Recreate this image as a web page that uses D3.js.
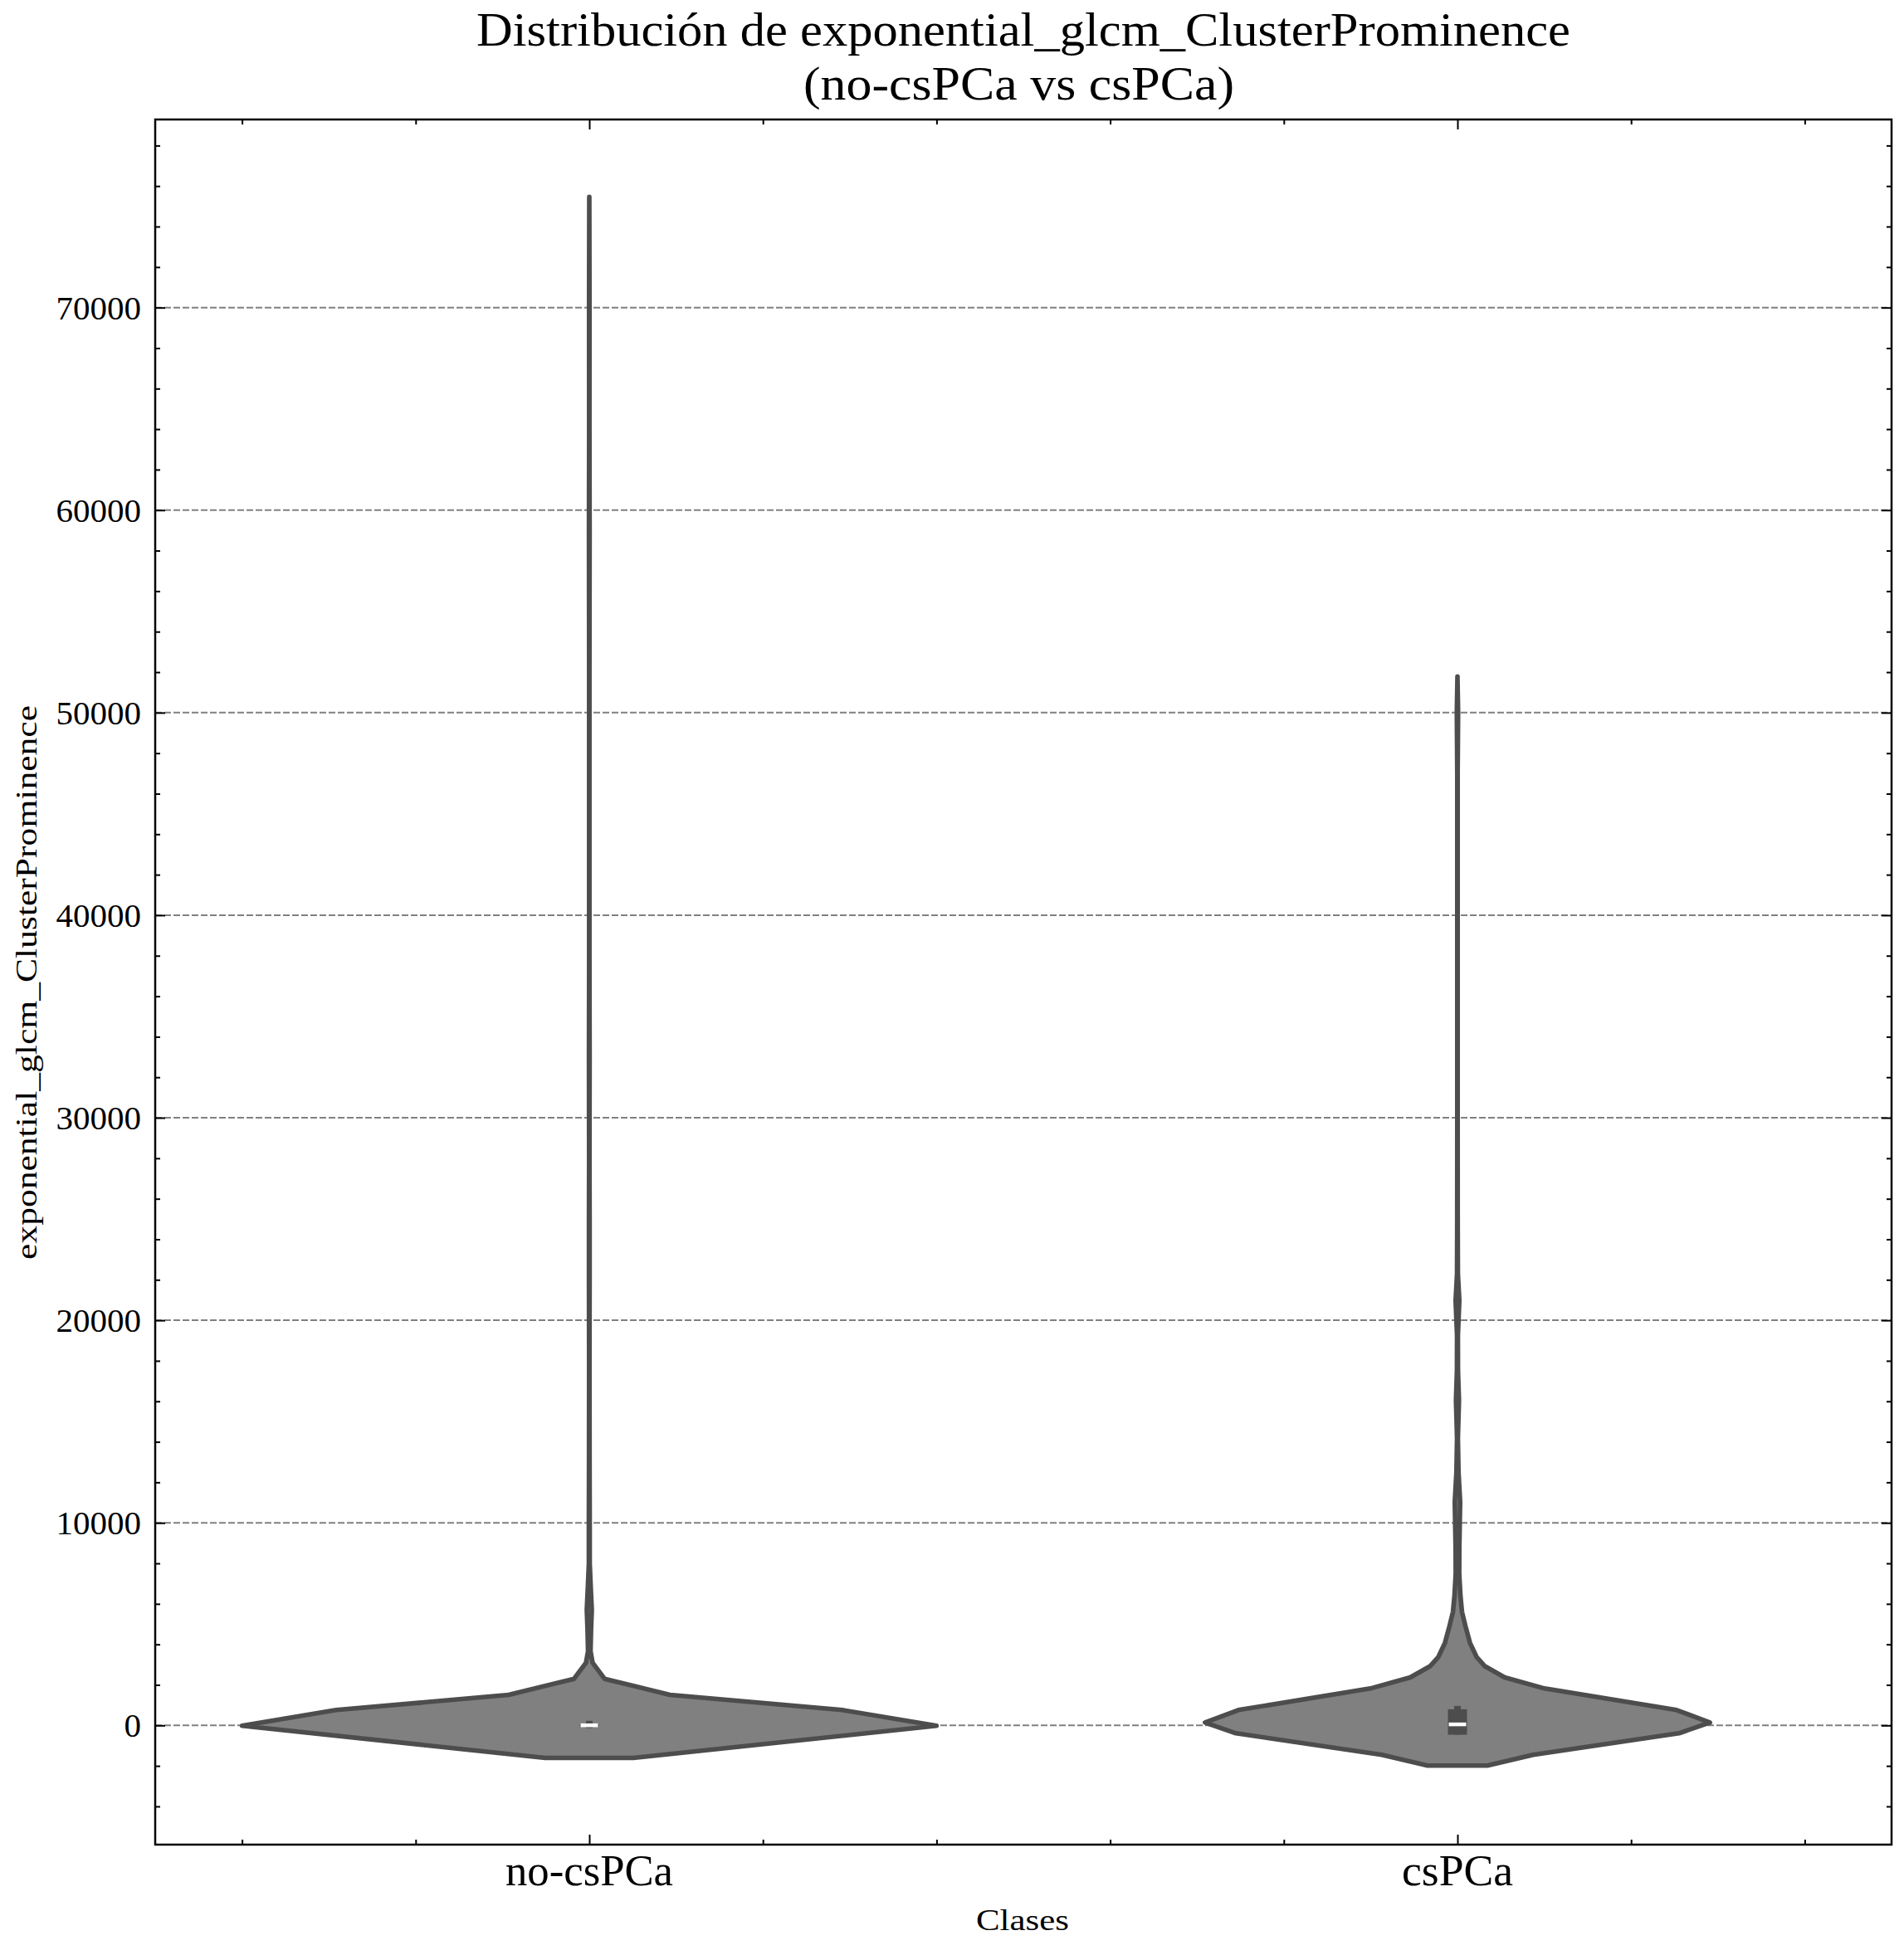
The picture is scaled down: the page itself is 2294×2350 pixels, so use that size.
<!DOCTYPE html>
<html>
<head>
<meta charset="utf-8">
<script src="https://cdn.jsdelivr.net/npm/d3@7"></script>
<style>
  body { margin: 0; background: #fff; }
  text { font-family: "Liberation Serif", serif; fill: #000; }
</style>
</head>
<body>
<script>
var categories = ["no-csPCa", "csPCa"]

// violin outlines: value on y axis, density scaled so the widest violin is 1
var noCsValues = [-1605, -20, 757, 1507, 2300, 3090, 3660, 4700, 5700, 6800, 8000, 10000, 13000, 18000, 22000, 25000, 28000, 33000, 38000, 45000, 52000, 59000, 64000, 70000, 75460]
var noCsDensity = [0.127, 1, 0.729, 0.232, 0.044, 0.0096, 0.0036, 0.005, 0.0072, 0.0042, 0.0012, 0.0012, 0.0008, 0.0005, 0.0009, 0.0009, 0.0005, 0.0009, 0.0004, 0.0004, 0.0004, 0.0009, 0.0004, 0.0006, 0]
var csValues = [-1985, -1455, -390, 143, 757, 1822, 2367, 2920, 3380, 4075, 4900, 5600, 6400, 7500, 8700, 11030, 12500, 14170, 16070, 17500, 19230, 20980, 22300, 25000, 30000, 40000, 47000, 50000, 51780]
var csDensity = [0.086, 0.218, 0.638, 0.727, 0.631, 0.251, 0.136, 0.079, 0.055, 0.036, 0.023, 0.013, 0.0086, 0.005, 0.0053, 0.0077, 0.003, 0.0012, 0.0043, 0.0015, 0.0012, 0.0053, 0.0012, 0.0007, 0.0005, 0.0005, 0.0005, 0.0018, 0]

// box stats per class
var medians = [5, 50]
var q1s = [-40, -460]
var q3s = [50, 795]
var whiskLow = [-130, -460]
var whiskHigh = [225, 960]

var yMajor = [0, 10000, 20000, 30000, 40000, 50000, 60000, 70000]
var yMinor = d3.range(-4000, 79000, 2000).filter(function(d) { return d % 10000 !== 0 })
var xMajor = [0, 1]
var xMinor = [-0.4, -0.2, 0.2, 0.4, 0.6, 0.8, 1.2, 1.4]

var left = 187, right = 2279, top_ = 144, bottom = 2223
var violinWidth = 0.4

var x = d3.scaleLinear().domain([-0.5, 1.5]).range([left, right])
var y = d3.scaleLinear().domain([-5887, 79286]).range([bottom, top_])

var svg = d3.select("body").append("svg")
  .attr("width", 2294)
  .attr("height", 2350)
  .style("display", "block")

// grid
svg.append("g").selectAll("line")
  .data(yMajor)
  .enter().append("line")
  .attr("x1", left)
  .attr("x2", right)
  .attr("y1", function(d) { return y(d) })
  .attr("y2", function(d) { return y(d) })
  .attr("stroke", "#808080")
  .attr("stroke-width", 2)
  .attr("stroke-dasharray", "8,3")

// violins
var violins = [
  { pos: 0, values: noCsValues, density: noCsDensity },
  { pos: 1, values: csValues, density: csDensity }
]

violins.forEach(function(v, i) {
  var pts = v.values.map(function(d, k) { return [d, v.density[k]] })
  var area = d3.area()
    .y(function(d) { return y(d[0]) })
    .x0(function(d) { return x(v.pos - d[1] * violinWidth) })
    .x1(function(d) { return x(v.pos + d[1] * violinWidth) })
    .curve(d3.curveLinear)

  svg.append("path")
    .attr("d", area(pts) )
    .attr("fill", "#808080")
    .attr("stroke", "#4d4d4d")
    .attr("stroke-width", 5.6)
    .attr("stroke-linejoin", "round")

  // whisker
  svg.append("line")
    .attr("x1", x(v.pos))
    .attr("x2", x(v.pos))
    .attr("y1", y(whiskLow[i]))
    .attr("y2", y(whiskHigh[i]))
    .attr("stroke", "#4d4d4d")
    .attr("stroke-width", 8)

  // box
  svg.append("line")
    .attr("x1", x(v.pos))
    .attr("x2", x(v.pos))
    .attr("y1", y(q1s[i]))
    .attr("y2", y(q3s[i]))
    .attr("stroke", "#4d4d4d")
    .attr("stroke-width", 23)

  // median
  svg.append("line")
    .attr("x1", x(v.pos - 0.01))
    .attr("x2", x(v.pos + 0.01))
    .attr("y1", y(medians[i]))
    .attr("y2", y(medians[i]))
    .attr("stroke", "#fff")
    .attr("stroke-width", 4.5)
})

function drawAxis(axis, tx, ty, size, width) {
  var g = svg.append("g")
    .attr("transform", "translate(" + tx + "," + ty + ")")
    .call(axis.tickSize(size).tickFormat(""))
  g.select(".domain").remove()
  g.selectAll("line").attr("stroke", "#000").attr("stroke-width", width)
  return g
}

// ticks point inward on all four sides
drawAxis(d3.axisRight(y).tickValues(yMajor), left, 0, 12, 2)
drawAxis(d3.axisRight(y).tickValues(yMinor), left, 0, 6, 2)
drawAxis(d3.axisLeft(y).tickValues(yMajor), right, 0, 12, 2)
drawAxis(d3.axisLeft(y).tickValues(yMinor), right, 0, 6, 2)
drawAxis(d3.axisTop(x).tickValues(xMajor), 0, bottom, 12, 2)
drawAxis(d3.axisTop(x).tickValues(xMinor), 0, bottom, 6, 2)
drawAxis(d3.axisBottom(x).tickValues(xMajor), 0, top_, 12, 2)
drawAxis(d3.axisBottom(x).tickValues(xMinor), 0, top_, 6, 2)

svg.append("rect")
  .attr("x", left)
  .attr("y", top_)
  .attr("width", right - left)
  .attr("height", bottom - top_)
  .attr("fill", "none")
  .attr("stroke", "#000")
  .attr("stroke-width", 2.5)

// tick labels
svg.append("g").selectAll("text")
  .data(yMajor)
  .enter().append("text")
  .attr("x", 170)
  .attr("y", function(d) { return y(d) + 14 })
  .attr("text-anchor", "end")
  .attr("font-size", 41)
  .text(function(d) { return d })

var xLabelWidth = [202, 134]
svg.append("g").selectAll("text")
  .data(categories)
  .enter().append("text")
  .attr("x", function(d, i) { return x(i) - xLabelWidth[i] / 2 })
  .attr("y", 2272)
  .attr("font-size", 52)
  .attr("textLength", function(d, i) { return xLabelWidth[i] })
  .attr("lengthAdjust", "spacingAndGlyphs")
  .text(function(d) { return d })

// titles
svg.append("text")
  .attr("x", 574)
  .attr("y", 55)
  .attr("font-size", 58)
  .attr("textLength", 1318)
  .attr("lengthAdjust", "spacingAndGlyphs")
  .text("Distribución de exponential_glcm_ClusterProminence")

svg.append("text")
  .attr("x", 968)
  .attr("y", 120)
  .attr("font-size", 58)
  .attr("textLength", 519)
  .attr("lengthAdjust", "spacingAndGlyphs")
  .text("(no-csPCa vs csPCa)")

svg.append("text")
  .attr("x", 1176)
  .attr("y", 2326)
  .attr("font-size", 36)
  .attr("textLength", 112)
  .attr("lengthAdjust", "spacingAndGlyphs")
  .text("Clases")

svg.append("text")
  .attr("transform", "translate(44,1518) rotate(-90)")
  .attr("font-size", 36)
  .attr("textLength", 668)
  .attr("lengthAdjust", "spacingAndGlyphs")
  .text("exponential_glcm_ClusterProminence")
</script>
</body>
</html>
